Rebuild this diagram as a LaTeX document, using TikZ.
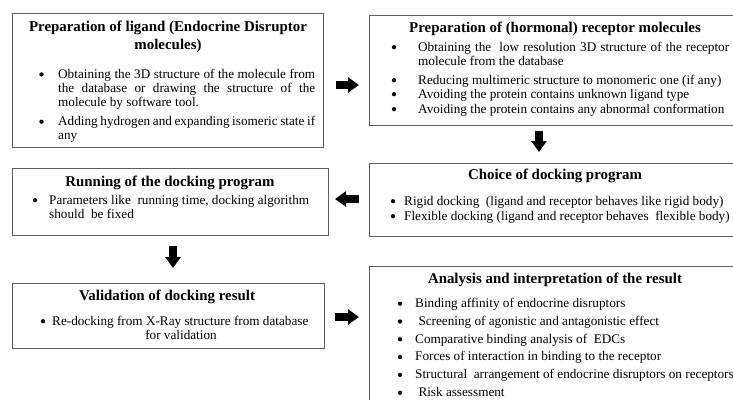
\documentclass[tikz,border=0pt]{standalone}
\usepackage{fontspec}
\setmainfont{Liberation Serif}
\usetikzlibrary{arrows.meta}
\definecolor{boxgray}{HTML}{5E5E5E}
\tikzset{
  box/.style={draw=boxgray, line width=1.1pt, inner sep=0pt, anchor=north west},
  ttl/.style={font=\fontsize{14.9}{17}\selectfont\bfseries, anchor=base, inner sep=0pt},
  body/.style={font=\fontsize{13.2}{15}\selectfont, anchor=base west, inner sep=0pt},
  bul/.style={circle, fill=black, inner sep=0pt, minimum size=4.3pt},
  blockarrow/.style={line width=7.5pt, black, -{Triangle[width=15pt,length=11pt]}}
}
\newcommand{\jline}[2]{\makebox[#1][s]{#2}}
\begin{document}
\begin{tikzpicture}[x=1pt,y=-1pt]
\useasboundingbox (0,0) rectangle (733,399);
\clip (0,0) rectangle (733,399);
% boxes
\node[box, minimum width=311pt, minimum height=134pt] (b1) at (12,13) {};
\node[box, minimum width=373pt, minimum height=110pt] (b2) at (369,15) {};
\node[box, minimum width=373pt, minimum height=73pt] (b3) at (369,163) {};
\node[box, minimum width=316pt, minimum height=67pt] (b4) at (12,168) {};
\node[box, minimum width=312pt, minimum height=65pt] (b5) at (12,283) {};
\node[box, minimum width=373pt, minimum height=150pt] (b6) at (369,266) {};
% box 1
\node[ttl] (t1a) at (168,31) {Preparation of ligand (Endocrine Disruptor};
\node[ttl] (t1b) at (168,49) {molecules)};
\node[bul] (p1a) at (41.5,74.4) {};
\node[body] (l1a) at (58,78.3) {\jline{257pt}{Obtaining the 3D structure of the molecule from}};
\node[body] (l1b) at (58,92.3) {\jline{257pt}{the database or drawing the structure of the}};
\node[body] (l1c) at (58,106.5) {molecule by software tool.};
\node[bul] (p1b) at (41.5,121.7) {};
\node[body] (l1d) at (58,125.5) {\jline{257pt}{Adding hydrogen and expanding isomeric state if}};
\node[body] (l1e) at (58,139) {any};
% box 2
\node[ttl] (t2) at (555,32) {Preparation of (hormonal) receptor molecules};
\node[bul] (p2a) at (394,47.2) {};
\node[body] (l2a) at (418,51) {\jline{311pt}{Obtaining the\ \ low resolution 3D structure of the receptor}};
\node[body] (l2b) at (418,65) {molecule from the database};
\node[bul] (p2b) at (394,80.2) {};
\node[body] (l2c) at (418,84) {Reducing multimeric structure to monomeric one (if any)};
\node[bul] (p2c) at (394,94.2) {};
\node[body] (l2d) at (418,98) {Avoiding the protein contains unknown ligand type};
\node[bul] (p2d) at (394,109.2) {};
\node[body] (l2e) at (418,113) {Avoiding the protein contains any abnormal conformation};
% box 3
\node[ttl] (t3) at (555,179) {Choice of docking program};
\node[bul] (p3a) at (393,201.2) {};
\node[body] (l3a) at (404,205) {Rigid docking\ \ (ligand and receptor behaves like rigid body)};
\node[bul] (p3b) at (393,216.2) {};
\node[body] (l3b) at (404,220) {Flexible docking (ligand and receptor behaves\ \ flexible body)};
% box 4
\node[ttl] (t4) at (170,186) {Running of the docking program};
\node[bul] (p4a) at (35,200.2) {};
\node[body] (l4a) at (49,204) {Parameters like\ \ running time, docking algorithm};
\node[body] (l4b) at (49,218) {should\ \ be fixed};
% box 5
\node[ttl] (t5) at (167,300) {Validation of docking result};
\node[bul] (p5a) at (43,321.2) {};
\node[body] (l5a) at (52,325) {Re-docking from X-Ray structure from database};
\node[body, anchor=base] (l5b) at (181,339) {for validation};
% box 6
\node[ttl] (t6) at (555,283) {Analysis and interpretation of the result};
\foreach \yy/\txt [count=\i] in {307.5/{Binding affinity of endocrine disruptors},
  325.3/{\ Screening of agonistic and antagonistic effect},
  343.1/{Comparative binding analysis of\ \ EDCs},
  360.9/{Forces of interaction in binding to the receptor},
  378.7/{Structural\ \ arrangement of endocrine disruptors on receptors},
  396.5/{\ Risk assessment}}{
  \node[bul] (p6\i) at (400,\yy-3.8) {};
  \node[body] (l6\i) at (415,\yy) {\txt};
}
% block arrows
\coordinate (a1s) at (336,85);  \coordinate (a1e) at (359,85);
\coordinate (a2s) at (539,131); \coordinate (a2e) at (539,152);
\coordinate (a3s) at (359,199); \coordinate (a3e) at (335,199);
\coordinate (a4s) at (173,246); \coordinate (a4e) at (173,268);
\coordinate (a5s) at (335,317); \coordinate (a5e) at (359,317);
\draw[blockarrow] (a1s) -- (a1e);
\draw[blockarrow] (a2s) -- (a2e);
\draw[blockarrow] (a3s) -- (a3e);
\draw[blockarrow] (a4s) -- (a4e);
\draw[blockarrow] (a5s) -- (a5e);
\end{tikzpicture}
\end{document}
